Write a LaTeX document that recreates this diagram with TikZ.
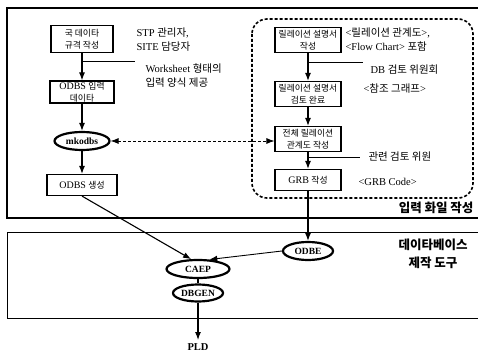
\documentclass[tikz,border=0pt]{standalone}
\usepackage{fontspec}
\setmainfont{Liberation Serif}
\newfontfamily\krfont[Scale=0.88]{Noto Sans CJK KR}
\newfontfamily\krnote{Noto Sans CJK KR}
\newcommand{\hg}[1]{{\krfont #1}}
\newcommand{\hn}[1]{{\krnote #1}}
\usetikzlibrary{shapes.geometric}
\usetikzlibrary{arrows.meta}
\tikzset{
	box/.style={draw, line width=1.2pt, minimum width=66pt, minimum height=24pt, inner sep=1pt,
			align=center, font=\fontsize{10}{12}\selectfont},
	oval/.style={draw, ellipse, line width=2.2pt, inner sep=0pt, minimum height=18pt,
			font=\fontsize{9.5}{11}\selectfont\bfseries},
	note/.style={anchor=west, align=left, font=\fontsize{10.5}{14}\selectfont},
	title/.style={align=center, font=\fontsize{12.5}{18}\selectfont\bfseries},
	flow/.style={line width=1.1pt, -{Latex[length=8pt,width=6pt]}}
}

\begin{document}
\begin{tikzpicture}[x=1pt,y=-1pt]
	\useasboundingbox (0,0) rectangle (478,355);
	\draw[line width=2.6pt] (478,8) -- (7,8) -- (7,218) -- (478,218);
	\draw[line width=1pt] (478,232) -- (7,232) -- (7,318) -- (478,318);
	\draw[line width=1.6pt, densely dashed, rounded corners=15pt] (252,19) rectangle (473,198);

	\node[box, minimum width=62pt, minimum height=27pt] (spec) at (82,39) {\hg{국 데이타}\\\hg{규격 작성}};
	\node[box, minimum width=64pt, minimum height=21pt] (inp) at (82,92) {ODBS \hg{입력}\\\hg{데이타}};
	\node[oval, minimum width=55pt] (mk) at (82,141) {mkodbs};
	\node[box, minimum width=70pt, minimum height=21pt] (gen) at (82,185) {ODBS \hg{생성}};

	\node[box, minimum height=25pt] (rel1) at (308,40) {\hg{릴레이션 설명서}\\\hg{작성}};
	\node[box, minimum height=25pt] (rel2) at (308,94) {\hg{릴레이션 설명서}\\\hg{검토 완료}};
	\node[box, minimum height=25pt] (rel3) at (308,139) {\hg{전체 릴레이션}\\\hg{관계도 작성}};
	\node[box, minimum height=21pt] (grb) at (308,180) {GRB \hg{작성}};

	\node[oval, minimum width=50pt] (odbe) at (308,251) {ODBE};
	\node[oval, minimum width=63pt] (caep) at (198,269) {CAEP};
	\node[oval, minimum width=50pt, minimum height=17pt] (dbgen) at (198,293) {DBGEN};
	\node[font=\fontsize{10.5}{12}\selectfont\bfseries] (pld) at (198,347) {PLD};

	\node[note] (stp) at (133,40) {STP \hn{관리자},\\SITE \hn{담당자}};
	\node[note] (ws) at (142,76) {Worksheet \hn{형태의}\\\hn{입력 양식 제공}};
	\node[note] (fc) at (342,40) {<\hn{릴레이션 관계도}>,\\<Flow Chart> \hn{포함}};
	\node[note] (dbc) at (367,70) {DB \hn{검토 위원회}};
	\node[note] (ref) at (360,89) {<\hn{참조 그래프}>};
	\node[note] (rev) at (365,157) {\hn{관련 검토 위원}};
	\node[note] (code) at (355,182) {<GRB Code>};
	\node[title, anchor=east] (inlab) at (477,208) {\hn{입력 화일 작성}};
	\node[title] (dblab) at (433,254) {\hn{데이타베이스}\\\hn{제작 도구}};

	\coordinate (a1) at (82,61);
	\coordinate (a2) at (135,61);
	\coordinate (b1) at (308,62);
	\coordinate (b2) at (363,62);
	\coordinate (c1) at (308,157);
	\coordinate (c2) at (360,157);
	\draw[line width=0.8pt] (a1) -- (a2);
	\draw[line width=0.8pt] (b1) -- (b2);
	\draw[line width=0.8pt] (c1) -- (c2);

	\draw[flow] (spec) -- (inp);
	\draw[flow] (inp) -- (mk);
	\draw[flow] (mk) -- (gen);
	\draw[flow] (rel1) -- (rel2);
	\draw[flow] (rel2) -- (rel3);
	\draw[flow] (rel3) -- (grb);
	\draw[flow, {Latex[length=8pt,width=6pt]}-{Latex[length=8pt,width=6pt]}, line width=0.8pt, densely dashed]
		(mk.east) -- (mk.east -| rel3.west);
	\draw[flow] (grb) -- (odbe);
	\draw[flow] (gen.south) -- (caep.125);
	\draw[flow, line width=0.9pt] (odbe.west) -- (caep.40);
	\draw[line width=1.1pt] (caep) -- (dbgen);
	\draw[flow] (dbgen) -- (pld);
\end{tikzpicture}
\end{document}
